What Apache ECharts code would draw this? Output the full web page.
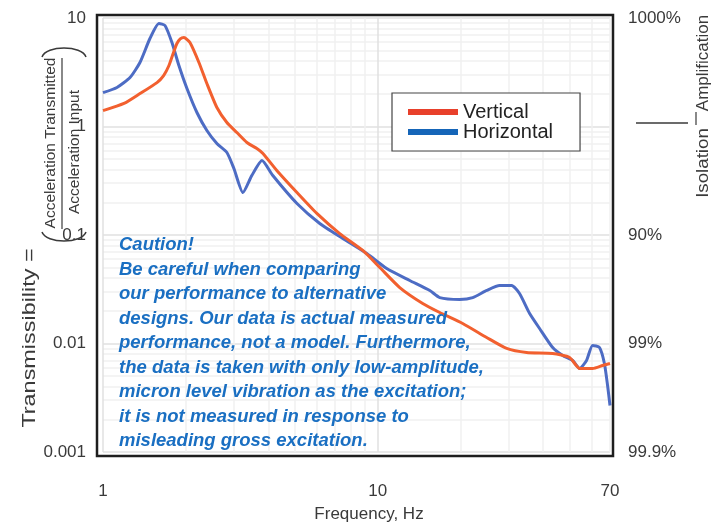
<!DOCTYPE html>
<html><head><meta charset="utf-8">
<script src="https://cdn.jsdelivr.net/npm/echarts@6/dist/echarts.min.js"></script>
<style>html,body{margin:0;padding:0;background:#fff}#c{width:711px;height:522px}</style>
</head><body><div id="c"></div>
<script>
// ---- data ----
const horizontalFreq = [1.0,1.124,1.254,1.363,1.482,1.598,1.681,1.782,1.889,2.021,2.197,2.388,2.597,2.824,2.995,3.23,3.48,3.79,4.15,5.08,6.15,7.46,9.12,10.78,13.07,15.46,16.81,19.87,22.16,24.9,27.77,30.7,32.8,35.7,38.8,43.3,47.1,51.2,54.3,57.5,60.5,64.1,66.8,68.6,70];
const horizontalValues = [2.05,2.29,2.83,3.89,6.47,8.90,8.53,5.94,3.65,2.24,1.346,0.919,0.697,0.576,0.410,0.246,0.353,0.486,0.353,0.195,0.1277,0.0929,0.0675,0.0491,0.0381,0.0308,0.0265,0.0255,0.0265,0.0308,0.0342,0.0342,0.0289,0.0189,0.01375,0.00918,0.00775,0.00697,0.00589,0.00697,0.0096,0.00918,0.00655,0.0041,0.00268];
const verticalFreq = [1.0,1.192,1.363,1.572,1.662,1.738,1.807,1.858,1.91,1.97,2.072,2.234,2.388,2.597,2.824,3.07,3.34,3.63,3.82,4.29,5.08,6.0,7.27,8.82,10.17,12.02,14.57,16.81,20.37,24.9,29.45,34.8,43.3,49.9,54.3,60.5,65.8,70];
const verticalValues = [1.40,1.63,2.01,2.54,2.95,3.65,4.84,5.82,6.43,6.61,5.94,3.89,2.49,1.497,1.089,0.88,0.712,0.627,0.564,0.393,0.246,0.158,0.103,0.072,0.0502,0.0328,0.0234,0.0193,0.0153,0.01136,0.0090,0.00826,0.00809,0.00743,0.00589,0.00589,0.00627,0.00655];
const xTickLabels = [1, 10, 70];
const xGridValues = [1,2,3,4,5,6,7,8,9,10,20,30,40,50,60,70];
const yTickValues = [0.001, 0.01, 0.1, 1, 10];
const yLeftLabels = ['0.001', '0.01', '0.1', '1', '10'];
const yRightLabels = ['99.9%', '99%', '90%', '', '1000%'];
const cautionLines = [
  'Caution!',
  'Be careful when comparing',
  'our performance to alternative',
  'designs. Our data is actual measured',
  'performance, not a model. Furthermore,',
  'the data is taken with only low-amplitude,',
  'micron level vibration as the excitation;',
  'it is not measured in response to',
  'misleading gross excitation.'
];
const seriesNames = ['Vertical', 'Horizontal'];

const zip = (xs, ys) => xs.map((x, i) => [x, ys[i]]);
const yGridValues = [];
[0.001, 0.01, 0.1, 1].forEach(d => { for (let k = 1; k < 10; k++) yGridValues.push(+(d * k).toPrecision(3)); });
yGridValues.push(10);
const labelFor = (arr) => (v) => {
  const i = yTickValues.findIndex(t => Math.abs(Math.log10(t) - Math.log10(v)) < 1e-6);
  return i >= 0 ? arr[i] : '';
};

const FONT = '"Liberation Sans", Arial, Helvetica, sans-serif';
const TXT = '#3a3a3a';
const MINOR = '#f1f1f1', MAJOR = '#e0e0e0';
const chart = echarts.init(document.getElementById('c'), null, {renderer: 'canvas'});
chart.setOption({
  animation: false,
  backgroundColor: '#fff',
  textStyle: {fontFamily: FONT},
  grid: {left: 103, right: 101, top: 18, bottom: 70, containLabel: false},
  xAxis: {
    type: 'log', logBase: 10, min: 1, max: 70,
    axisLine: {show: false},
    axisTick: {show: false, customValues: xGridValues},
    axisLabel: {customValues: xTickLabels, margin: 31, fontSize: 17, color: TXT, fontFamily: FONT,
      formatter: v => String(Math.round(v))},
    splitLine: {show: true, lineStyle: {color: [MAJOR, MINOR, MINOR, MINOR, MINOR, MINOR, MINOR, MINOR, MINOR], width: 1.5}}
  },
  yAxis: [{
    type: 'log', logBase: 10, min: 0.001, max: 10,
    axisLine: {show: false},
    axisTick: {show: false, customValues: yGridValues},
    axisLabel: {customValues: yTickValues, margin: 17, fontSize: 17, color: TXT, fontFamily: FONT, formatter: labelFor(yLeftLabels)},
    splitLine: {show: true, lineStyle: {color: [MAJOR, MINOR, MINOR, MINOR, MINOR, MINOR, MINOR, MINOR, MINOR], width: 1.5}}
  }, {
    type: 'log', logBase: 10, min: 0.001, max: 10, position: 'right',
    axisLine: {show: false}, axisTick: {show: false}, splitLine: {show: false},
    axisLabel: {customValues: yTickValues, margin: 18, fontSize: 17, color: TXT, fontFamily: FONT, formatter: labelFor(yRightLabels)}
  }],
  legend: {
    left: 392, top: 93, orient: 'vertical',
    data: [
      {name: seriesNames[0], itemStyle: {color: '#e8402b'}},
      {name: seriesNames[1], itemStyle: {color: '#1565b8'}}
    ],
    icon: 'rect', itemWidth: 50, itemHeight: 6, itemGap: 0,
    padding: [9, 27, 9, 16],
    borderColor: '#444', borderWidth: 1.2, backgroundColor: '#fff',
    textStyle: {fontSize: 20, lineHeight: 19, color: '#222', fontFamily: FONT}
  },
  series: [{
    name: seriesNames[1], type: 'line', data: zip(horizontalFreq, horizontalValues),
    showSymbol: false, smooth: 0.2,
    lineStyle: {color: '#4d6cc4', width: 3}, itemStyle: {color: '#4d6cc4'}, z: 3
  }, {
    name: seriesNames[0], type: 'line', data: zip(verticalFreq, verticalValues),
    showSymbol: false, smooth: 0.2,
    lineStyle: {color: '#f2602f', width: 3}, itemStyle: {color: '#f2602f'}, z: 4
  }],
  graphic: [
    {type: 'rect', shape: {x: 97, y: 15, width: 516, height: 441}, style: {fill: null, stroke: '#1e1e1e', lineWidth: 2.5}, z: 10},
    {type: 'text', x: 119, y: 233, z: 20, style: {text: cautionLines.join('\n'), fill: '#1a6fc2',
      font: 'italic bold 18.5px ' + FONT, lineHeight: 24.5, verticalAlign: 'top'}},
    {type: 'text', x: 369, y: 514, z: 20, style: {text: 'Frequency, Hz', fill: TXT, font: '17px ' + FONT, align: 'center', verticalAlign: 'middle'}},
    // left axis title
    {type: 'text', x: 30, y: 338, rotation: Math.PI / 2, scaleX: 1.3, z: 20, style: {text: 'Transmissibility =', fill: TXT, font: '18px ' + FONT, align: 'center', verticalAlign: 'middle'}},
    {type: 'text', x: 51, y: 143, rotation: Math.PI / 2, z: 20, style: {text: 'Acceleration Transmitted', fill: TXT, font: '15.5px ' + FONT, align: 'center', verticalAlign: 'middle'}},
    {type: 'text', x: 75, y: 152, rotation: Math.PI / 2, z: 20, style: {text: 'Acceleration Input', fill: TXT, font: '15.5px ' + FONT, align: 'center', verticalAlign: 'middle'}},
    {type: 'line', shape: {x1: 62, y1: 58, x2: 62, y2: 229}, style: {stroke: TXT, lineWidth: 1.2}, z: 20},
    {type: 'bezierCurve', shape: {x1: 42, y1: 232, cpx1: 46, cpy1: 244, cpx2: 82, cpy2: 244, x2: 86, y2: 232}, style: {stroke: TXT, lineWidth: 1.5, fill: null}, z: 20},
    {type: 'bezierCurve', shape: {x1: 42, y1: 57, cpx1: 46, cpy1: 45, cpx2: 82, cpy2: 45, x2: 86, y2: 57}, style: {stroke: TXT, lineWidth: 1.5, fill: null}, z: 20},
    // right side annotation
    {type: 'line', shape: {x1: 636, y1: 123, x2: 688, y2: 123}, style: {stroke: TXT, lineWidth: 1.5}, z: 20},
    {type: 'line', shape: {x1: 696, y1: 112, x2: 696, y2: 125}, style: {stroke: TXT, lineWidth: 1.2}, z: 20},
    {type: 'text', x: 703, y: 63, rotation: Math.PI / 2, z: 20, style: {text: 'Amplification', fill: TXT, font: '17px ' + FONT, align: 'center', verticalAlign: 'middle'}},
    {type: 'text', x: 703, y: 163, rotation: Math.PI / 2, scaleX: 1.1, z: 20, style: {text: 'Isolation', fill: TXT, font: '17px ' + FONT, align: 'center', verticalAlign: 'middle'}}
  ]
});
</script></body></html>
